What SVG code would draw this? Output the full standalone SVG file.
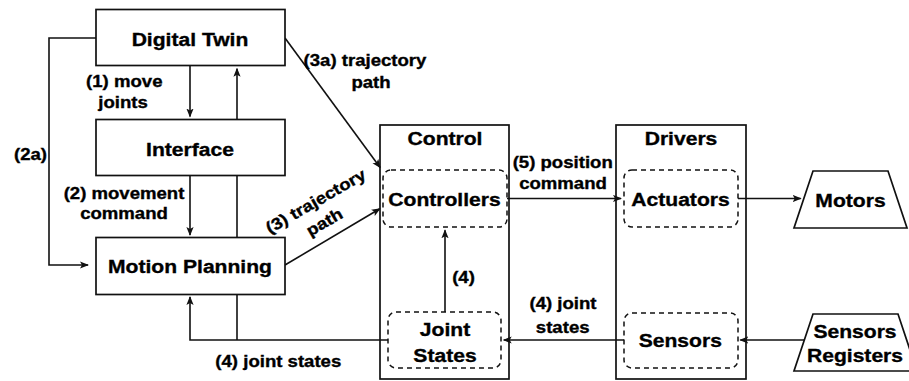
<svg xmlns="http://www.w3.org/2000/svg" width="909" height="381" viewBox="0 0 909 381">
  <defs>
    <style>
      .box{fill:#fff;stroke:#111;stroke-width:1.7}
      .grp{fill:none;stroke:#111;stroke-width:1.7}
      .sub{fill:#fff;stroke:#111;stroke-width:1.5;stroke-dasharray:5 4}
      .ln{fill:none;stroke:#111;stroke-width:1.6}
      .arr{marker-end:url(#ah)}
      .t{font-family:"Liberation Sans",Arial,Helvetica,sans-serif;font-weight:bold;font-size:18.5px;text-anchor:middle;fill:#000;stroke:#000;stroke-width:0.35}
      .l{font-size:16.3px}
    </style>
    <marker id="ah" markerUnits="userSpaceOnUse" markerWidth="9" markerHeight="8" viewBox="0 0 9 8" refX="8" refY="4" orient="auto">
      <path d="M0,0.4 L9,4 L0,7.6 L2,4 Z" fill="#111"/>
    </marker>
  </defs>

  <rect width="909" height="381" fill="#fff"/>

  <!-- connectors (drawn first so boxes hide pass-through segments) -->
  <g id="connectors">
    <path class="ln arr" d="M190,66 V116.5"/>
    <path class="ln arr" d="M237,340 V68.7"/>
    <path class="ln arr" d="M190,176 V235"/>
    <path class="ln arr" d="M96,38 H49 V265 H88"/>
    <path class="ln arr" d="M388,340 H190 V297"/>
    <path class="ln arr" d="M285,38 L380.1,167.5"/>
    <path class="ln arr" d="M285,265 L379.8,208.8"/>
    <path class="ln arr" d="M507,198.5 H621"/>
    <path class="ln arr" d="M738,198.5 H800.7"/>
    <path class="ln arr" d="M445,312 V230.3"/>
    <path class="ln arr" d="M624,340 H503.7"/>
    <path class="ln arr" d="M804,340 H740.3"/>
  </g>

  <!-- connector labels -->
  <g id="labels">
    <text class="t l" transform="translate(124.3,87.3) scale(1.14,1)">(1) move</text>
    <text class="t l" transform="translate(123,108) scale(1.14,1)">joints</text>
    <text class="t l" transform="translate(30.5,159.5) scale(1.14,1)">(2a)</text>
    <text class="t l" transform="translate(124,198.7) scale(1.14,1)">(2) movement</text>
    <text class="t l" transform="translate(124,219.4) scale(1.14,1)">command</text>
    <text class="t l" transform="translate(278.3,366.7) scale(1.14,1)">(4) joint states</text>
    <text class="t l" transform="translate(365,66) scale(1.14,1)">(3a) trajectory</text>
    <text class="t l" transform="translate(371,87.5) scale(1.14,1)">path</text>
    <g transform="translate(318.5,206) rotate(-30)">
      <text class="t l" transform="scale(1.14,1)">(3) trajectory</text>
      <text class="t l" transform="translate(-3,22.5) scale(1.14,1)">path</text>
    </g>
    <text class="t l" transform="translate(562.7,167.5) scale(1.14,1)">(5) position</text>
    <text class="t l" transform="translate(563,189) scale(1.14,1)">command</text>
    <text class="t l" transform="translate(463.5,283) scale(1.14,1)">(4)</text>
    <text class="t l" transform="translate(563,309.3) scale(1.14,1)">(4) joint</text>
    <text class="t l" transform="translate(562.7,332.5) scale(1.14,1)">states</text>
  </g>

  <g id="digital-twin">
    <rect class="box" x="96" y="9.5" width="189" height="56"/>
    <text class="t" transform="translate(190,45.5) scale(1.14,1)">Digital Twin</text>
  </g>

  <g id="interface">
    <rect class="box" x="96" y="119.5" width="189" height="56"/>
    <text class="t" transform="translate(190,155.7) scale(1.14,1)">Interface</text>
  </g>

  <g id="motion-planning">
    <rect class="box" x="96" y="237.5" width="189" height="57"/>
    <text class="t" transform="translate(190,273) scale(1.14,1)">Motion Planning</text>
  </g>

  <g id="control">
    <rect class="grp" x="380" y="125" width="129" height="254"/>
    <text class="t" transform="translate(445,145) scale(1.14,1)">Control</text>
  </g>
  <g id="controllers">
    <rect class="sub" x="383" y="170" width="124" height="57" rx="8"/>
    <text class="t" transform="translate(444.5,206) scale(1.14,1)">Controllers</text>
  </g>
  <g id="joint-states">
    <rect class="sub" x="388" y="312" width="113" height="56" rx="8"/>
    <text class="t" transform="translate(445,336) scale(1.14,1)">Joint</text>
    <text class="t" transform="translate(445,361.7) scale(1.14,1)">States</text>
  </g>

  <g id="drivers">
    <rect class="grp" x="616" y="125" width="130" height="254"/>
    <text class="t" transform="translate(681,145) scale(1.14,1)">Drivers</text>
  </g>
  <g id="actuators">
    <rect class="sub" x="624" y="170" width="114" height="57" rx="8"/>
    <text class="t" transform="translate(680.5,206) scale(1.14,1)">Actuators</text>
  </g>
  <g id="sensors">
    <rect class="sub" x="624" y="313" width="114" height="55" rx="8"/>
    <text class="t" transform="translate(680.3,347.3) scale(1.14,1)">Sensors</text>
  </g>

  <g id="motors">
    <polygon class="box" points="813,171 888,171 907,228 794,228"/>
    <text class="t" transform="translate(850.5,206.5) scale(1.14,1)">Motors</text>
  </g>

  <g id="sensors-registers">
    <polygon class="box" points="813,314 898,314 917,371 794,371"/>
    <text class="t" transform="translate(855,337.7) scale(1.14,1)">Sensors</text>
    <text class="t" transform="translate(855,362) scale(1.14,1)">Registers</text>
  </g>
</svg>
